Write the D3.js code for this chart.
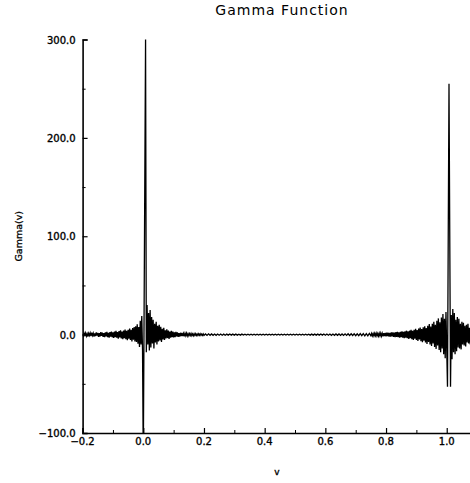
<!DOCTYPE html>
<html>
<head>
<meta charset="utf-8">
<script src="https://cdn.jsdelivr.net/npm/d3@7"></script>
<style>
  html, body { margin: 0; padding: 0; background: #fff; }
  svg text { font-family: "DejaVu Sans", sans-serif; fill: #000; }
</style>
</head>
<body>
<svg id="chart" width="470" height="483"></svg>
<script>
// ---- Data ----
const chartTitle = "Gamma Function";
const xLabel = "v";
const yLabel = "Gamma(v)";

// Sampled Gamma(v) curve, stored as consecutive runs: each run has a first v, a v step and the values.
// run A: v -0.2000 .. -0.0025
const runAStart = -0.2, runAStep = 0.0025;
const runAValues = [
  0.5, -1.2, 1.4, -0.6, 1.8, -1.5, 0.9, -1.9, 1.3, -0.8,
  1.7, -1.4, 2.0, -0.9, 1.5, -2.1, 1.2, -1.6, 2.2, -1.0,
  1.8, -2.3, 1.4, -1.9, 2.5, -1.3, 2.1, -2.4, 1.6, -2.6,
  2.2, -1.7, 2.8, -2.5, 1.9, -3.0, 2.6, -2.0, 3.2, -2.7,
  2.4, -3.4, 3.0, -2.6, 3.8, -3.1, 2.7, -4.0, 3.5, -2.9,
  4.3, -3.8, 3.2, -4.7, 4.1, -3.5, 5.2, -4.6, 3.9, -5.6,
  5.0, -4.2, 6.3, -5.5, 4.8, -7.0, 6.6, -5.2, 7.8, -6.9,
  8.5, -7.4, 10.5, -9.2, 7.8, -12.5, 14.0, -10.0, 19.0, -15.0
];
// run S0: the pole at v = 0
const runS0Start = 0.0, runS0Step = 0.0075;
const runS0Values = [-130, 300];
// run B: v 0.0100 .. 0.1975
const runBStart = 0.01, runBStep = 0.0025;
const runBValues = [
  -18, 30, -10, 22, -16, 25,
  -13, 18, -9, 15, -14, 11, -8, 13, -10, 9,
  -7, 10, -6, 8, -7.5, 6, -5, 7, -5.5, 4.5,
  -4, 5.5, -3.5, 4.2, -4.5, 3.2, -3.0, 3.8, -2.6, 3.0,
  -2.8, 2.2, -2.5, 2.8, -1.8, 2.4, -2.2, 1.6, -2.0, 1.9,
  -1.5, 1.8, -1.6, 1.2, -1.7, 1.4, -1.1, 1.5, -1.3, 1.0,
  -1.2, 1.1, -0.9, 1.2, -1.0, 0.8, -1.1, 0.9, -0.8, 1.0,
  -0.9, 0.7, -0.9, 0.8, -0.7, 0.9, -0.8, 0.6, -0.8, 0.7
];
// run M: v 0.200 .. 0.745
const runMStart = 0.2, runMStep = 0.005;
const runMValues = [
  -0.8, 0.7, -0.8, 0.8, -0.7, 0.7, -0.7, 0.6, -0.7, 0.6,
  -0.6, 0.6, -0.6, 0.5, -0.6, 0.5, -0.5, 0.6, -0.5, 0.5,
  -0.5, 0.5, -0.5, 0.4, -0.5, 0.5, -0.4, 0.5, -0.4, 0.4,
  -0.4, 0.4, -0.4, 0.4, -0.4, 0.4, -0.4, 0.4, -0.4, 0.4,
  -0.4, 0.4, -0.4, 0.4, -0.4, 0.4, -0.4, 0.4, -0.4, 0.4,
  -0.4, 0.4, -0.4, 0.4, -0.4, 0.4, -0.4, 0.4, -0.4, 0.4,
  -0.4, 0.4, -0.4, 0.4, -0.4, 0.5, -0.4, 0.4, -0.5, 0.4,
  -0.5, 0.5, -0.5, 0.5, -0.5, 0.5, -0.5, 0.6, -0.5, 0.6,
  -0.6, 0.6, -0.6, 0.6, -0.7, 0.6, -0.7, 0.7, -0.7, 0.7,
  -0.8, 0.7, -0.8, 0.8, -0.8, 0.9, -0.8, 0.9, -0.9, 0.9,
  -1.0, 0.9, -1.0, 1.1, -1.0, 1.1, -1.2, 1.1, -1.2, 1.3
];
// run C: v 0.7500 .. 0.9975
const runCStart = 0.75, runCStep = 0.0025;
const runCValues = [
  -1.1, 1.3, -1.2, 1.0, -1.4, 1.3, -1.1, 1.5, -1.3, 1.2,
  -1.5, 1.4, -1.2, 1.6, -1.5, 1.3, -1.7, 1.6, -1.4, 1.8,
  -1.7, 2.0, -1.5, 1.9, -2.1, 1.7, -2.0, 2.3, -1.8, 2.2,
  -2.4, 2.0, -2.6, 2.5, -2.2, 2.8, -2.6, 2.3, -3.0, 2.9,
  -2.6, 3.3, -3.2, 2.8, -3.6, 3.4, -3.0, 4.0, -3.7, 3.3,
  -4.3, 4.0, -3.5, 4.8, -4.6, 3.9, -5.4, 5.0, -4.2, 5.8,
  -5.5, 4.6, -6.4, 6.2, -5.0, 7.2, -6.8, 5.6, -7.8, 7.4,
  -6.2, 8.6, -8.0, 6.8, -9.6, 9.0, -7.5, 10.8, -10.0, 8.2,
  -11.5, 11.0, -9.0, 13.0, -12.5, 10.0, -14.5, 14.0, -11.0, 16.5,
  -15.5, 12.5, -18.0, 17.5, -14.0, 21.0, -20.0, 16.0, -24.0, 23.0
];
// run S1: the spike just right of v = 1
const runS1Start = 1.0025, runS1Step = 0.005;
const runS1Values = [-53, 255, -53];
// run D: v 1.0150 .. 1.0800
const runDStart = 1.015, runDStep = 0.0025;
const runDValues = [
  20, -25, 26, -18, 22, -20, 15, -17, 18, -13,
  16, -14, 11, -15, 13, -10, 12, -11, 9, -12,
  10, -8, 11, -9, 7, -10, 8
];

const xTickValues = [-0.2, 0.0, 0.2, 0.4, 0.6, 0.8, 1.0];
const xMinorTicks = [-0.1, 0.1, 0.3, 0.5, 0.7, 0.9];
const yTickValues = [-100, 0, 100, 200, 300];
const yMinorTicks = [-50, 50, 150, 250];

(function draw() {
  const svg = d3.select("#chart");
  const mLeft = 82.6, mRight = 471, mTop = 39.5, mBottom = 433;

  const x = d3.scaleLinear().domain([-0.2, 1.08]).range([mLeft, mRight]);
  const y = d3.scaleLinear().domain([-100, 300]).range([mBottom, mTop]);

  const runs = [
    [runAStart, runAStep, runAValues],
    [runS0Start, runS0Step, runS0Values],
    [runBStart, runBStep, runBValues],
    [runMStart, runMStep, runMValues],
    [runCStart, runCStep, runCValues],
    [runS1Start, runS1Step, runS1Values],
    [runDStart, runDStep, runDValues]
  ];
  const data = runs.flatMap(([s, st, vals]) => vals.map((g, i) => ({ v: s + i * st, g })));

  svg.append("defs").append("clipPath").attr("id", "plotclip")
    .append("rect").attr("x", mLeft).attr("y", mTop - 1)
    .attr("width", mRight - mLeft).attr("height", mBottom - mTop + 1);

  svg.append("path")
    .datum(data)
    .attr("clip-path", "url(#plotclip)")
    .attr("fill", "none")
    .attr("stroke", "#000")
    .attr("stroke-width", 1.3)
    .attr("d", d3.line().x(d => x(d.v)).y(d => y(d.g)));

  // X axis
  const xAxis = svg.append("g").attr("transform", `translate(0,${mBottom})`)
    .call(d3.axisTop(x).tickValues(xTickValues).tickSize(5).tickFormat(() => ""));
  xAxis.select(".domain").attr("stroke-width", 1.6);
  xAxis.selectAll(".tick line").attr("stroke-width", 1.2);
  svg.append("g").attr("transform", `translate(0,${mBottom})`)
    .call(d3.axisTop(x).tickValues(xMinorTicks).tickSize(3).tickFormat(() => ""))
    .call(g => g.select(".domain").remove());
  svg.append("g").selectAll("text").data(xTickValues).join("text")
    .attr("x", d => x(d)).attr("y", mBottom + 12)
    .attr("text-anchor", "middle")
    .attr("font-size", 10)
    .attr("stroke", "#000").attr("stroke-width", 0.35)
    .text(d => d3.format(".1f")(d).replace("-", "\u2212"));

  // Y axis
  const yAxis = svg.append("g").attr("transform", `translate(${mLeft},0)`)
    .call(d3.axisRight(y).tickValues(yTickValues).tickSize(5).tickFormat(() => ""));
  yAxis.select(".domain").attr("stroke-width", 1.6);
  yAxis.selectAll(".tick line").attr("stroke-width", 1.2);
  svg.append("g").attr("transform", `translate(${mLeft},0)`)
    .call(d3.axisRight(y).tickValues(yMinorTicks).tickSize(3).tickFormat(() => ""))
    .call(g => g.select(".domain").remove());
  svg.append("g").selectAll("text").data(yTickValues).join("text")
    .attr("x", mLeft - 7).attr("y", d => y(d) + 4)
    .attr("text-anchor", "end")
    .attr("font-size", 10)
    .attr("stroke", "#000").attr("stroke-width", 0.35)
    .text(d => d3.format(".1f")(d).replace("-", "\u2212"));

  // Titles
  svg.append("text")
    .attr("x", 282).attr("y", 15)
    .attr("text-anchor", "middle")
    .attr("font-size", 14)
    .attr("letter-spacing", 1)
    .text(chartTitle);

  svg.append("text")
    .attr("x", 277).attr("y", 475)
    .attr("text-anchor", "middle")
    .attr("font-size", 9)
    .attr("stroke", "#000").attr("stroke-width", 0.35)
    .text(xLabel);

  svg.append("text")
    .attr("transform", `translate(22,${(mTop + mBottom) / 2}) rotate(-90)`)
    .attr("text-anchor", "middle")
    .attr("font-size", 9.5)
    .attr("stroke", "#000").attr("stroke-width", 0.3)
    .text(yLabel);
})();
</script>
</body>
</html>
